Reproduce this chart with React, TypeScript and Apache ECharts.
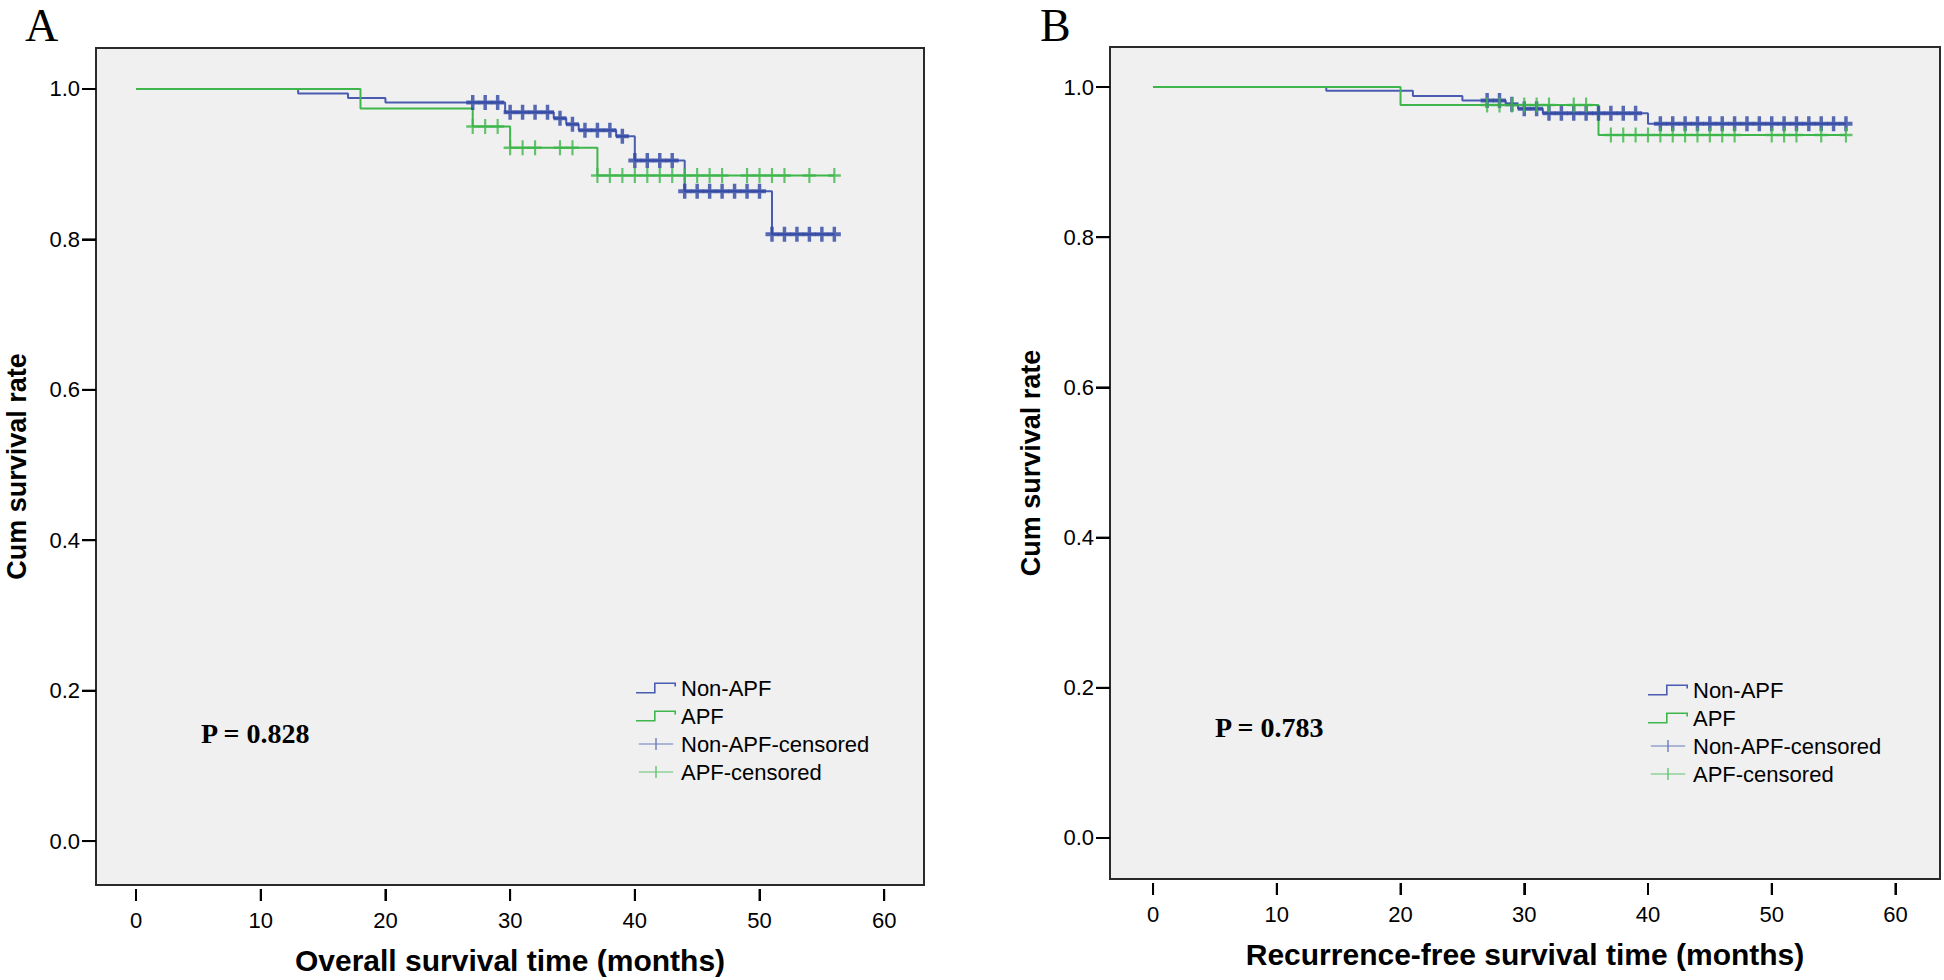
import React, { useEffect, useRef } from "react";
import * as echarts from "echarts";

// ---------- data ----------
const xTicks = [0, 10, 20, 30, 40, 50, 60];
const yTicks = [0, 0.2, 0.4, 0.6, 0.8, 1.0];

// Panel A: overall survival
const osNonApfTimes = [0, 13, 17, 20, 29.6, 33.5, 34.5, 35.5, 38.5, 40, 44, 51, 56];
const osNonApfSurv = [1, 0.994, 0.988, 0.982, 0.969, 0.961, 0.953, 0.945, 0.937, 0.905, 0.864, 0.807, 0.807];
const osNonApfCensor = [27, 28, 29, 30, 31, 32, 33, 34, 35, 36, 37, 38, 39, 40, 41, 42, 43, 44, 45, 46, 47, 48, 49, 50, 51, 52, 53, 54, 55, 56];

const osApfTimes = [0, 18, 27, 30, 37, 56];
const osApfSurv = [1, 0.974, 0.95, 0.922, 0.885, 0.885];
const osApfCensor = [27, 28, 29, 30, 31, 32, 34, 35, 37, 38, 39, 40, 41, 42, 43, 44, 45, 46, 47, 49, 50, 51, 52, 54, 56];

// Panel B: recurrence-free survival
const rfsNonApfTimes = [0, 14, 21, 25, 28.5, 29.5, 31.5, 40, 56];
const rfsNonApfSurv = [1, 0.995, 0.988, 0.982, 0.977, 0.971, 0.965, 0.951, 0.951];
const rfsNonApfCensor = [27, 28, 29, 30, 31, 32, 33, 34, 35, 36, 37, 38, 39, 41, 42, 43, 44, 45, 46, 47, 48, 49, 50, 51, 52, 53, 54, 55, 56];

const rfsApfTimes = [0, 20, 36, 56];
const rfsApfSurv = [1, 0.976, 0.936, 0.936];
const rfsApfCensor = [27, 28, 29, 30, 31, 32, 34, 35, 37, 38, 39, 40, 41, 42, 43, 44, 45, 46, 47, 50, 51, 52, 54, 56];

const legendNames = ["Non-APF", "APF", "Non-APF-censored", "APF-censored"];
const pValueA = "P = 0.828";
const pValueB = "P = 0.783";
const xTitleA = "Overall survival time (months)";
const xTitleB = "Recurrence-free survival time (months)";
const yTitle = "Cum survival rate";

// axis ranges per panel (chosen so the frame matches the original layout)
const xRanges = [
  [-3.21, 63.19],
  [-3.48, 63.6],
];
const yRanges = [
  [-0.0584, 1.0545],
  [-0.0546, 1.0533],
];

// ---------- styles ----------
const BLUE_LINE = "#4a5cb2";
const BLUE_MARK = "#3046a3";
const GREEN = "#3fb64b";
const AXIS_COLOR = "#2a2a2a";
const SANS = "Arial, 'Liberation Sans', sans-serif";
const SERIF = "'Times New Roman', 'Liberation Serif', serif";

const PLUS_BOLD = "path://M4.4,0H7.6V4.4H12V7.6H7.6V12H4.4V7.6H0V4.4H4.4Z";
const PLUS_THIN = "path://M5,0H7V5H12V7H7V12H5V7H0V5H5Z";
const STEP_ICON =
  "path://M0,9.4H19.6V11H0Z M18,0H19.6V11H18Z M18,0H40V1.6H18Z M38.4,0H40V4H38.4Z";
const CENSOR_ICON = "path://M0,6.3H19.2V0H20.8V6.3H40V7.7H20.8V14H19.2V7.7H0Z";

function survAt(times: number[], surv: number[], t: number) {
  let v = surv[0];
  for (let i = 0; i < times.length; i++) if (times[i] <= t) v = surv[i];
  return v;
}

function steps(times: number[], surv: number[]) {
  return times.map((t, i) => [t, surv[i]]);
}

function censors(times: number[], surv: number[], cens: number[]) {
  return cens.map((t) => [t, survAt(times, surv, t)]);
}

function panelSeries(
  idx: number,
  nonT: number[],
  nonS: number[],
  nonC: number[],
  apfT: number[],
  apfS: number[],
  apfC: number[]
) {
  return [
    {
      name: legendNames[0],
      type: "line",
      xAxisIndex: idx,
      yAxisIndex: idx,
      step: "end",
      showSymbol: false,
      color: BLUE_LINE,
      lineStyle: { color: BLUE_LINE, width: 2 },
      data: steps(nonT, nonS),
      z: 2,
    },
    {
      name: legendNames[1],
      type: "line",
      xAxisIndex: idx,
      yAxisIndex: idx,
      step: "end",
      showSymbol: false,
      color: GREEN,
      lineStyle: { color: GREEN, width: 2 },
      data: steps(apfT, apfS),
      z: 2,
    },
    {
      name: legendNames[2],
      type: "scatter",
      xAxisIndex: idx,
      yAxisIndex: idx,
      symbol: PLUS_BOLD,
      symbolSize: [13, 15],
      color: BLUE_MARK,
      itemStyle: { color: BLUE_MARK },
      data: censors(nonT, nonS, nonC),
      z: 3,
    },
    {
      name: legendNames[3],
      type: "scatter",
      xAxisIndex: idx,
      yAxisIndex: idx,
      symbol: PLUS_THIN,
      symbolSize: [13, 15],
      color: GREEN,
      itemStyle: { color: GREEN },
      data: censors(apfT, apfS, apfC),
      z: 4,
    },
  ];
}

function legendFor(left: number, top: number) {
  return {
    orient: "vertical",
    left,
    top,
    padding: 0,
    itemWidth: 40,
    itemHeight: 12,
    itemGap: 6,
    selectedMode: false,
    textStyle: { fontSize: 22, color: "#000", fontFamily: SANS },
    data: [
      { name: legendNames[0], icon: STEP_ICON, itemStyle: { color: BLUE_LINE, borderWidth: 0 } },
      { name: legendNames[1], icon: STEP_ICON, itemStyle: { color: GREEN, borderWidth: 0 } },
      { name: legendNames[2], icon: CENSOR_ICON, itemStyle: { color: BLUE_LINE, borderWidth: 0 } },
      { name: legendNames[3], icon: CENSOR_ICON, itemStyle: { color: GREEN, borderWidth: 0 } },
    ],
  };
}

function xAxisFor(idx: number, name: string) {
  return {
    type: "value",
    gridIndex: idx,
    min: xRanges[idx][0],
    max: xRanges[idx][1],
    offset: 4,
    axisLine: { show: false, onZero: false },
    axisTick: { show: true, inside: false, length: 12, lineStyle: { color: "#000", width: 2 }, customValues: xTicks },
    axisLabel: { customValues: xTicks, margin: 20, fontSize: 22, color: "#000", fontFamily: SANS },
    splitLine: { show: false },
    name,
    nameLocation: "middle",
    nameGap: 56,
    nameTextStyle: { fontSize: 30, fontWeight: "bold", color: "#000", fontFamily: SANS },
  };
}

function yAxisFor(idx: number) {
  return {
    type: "value",
    gridIndex: idx,
    min: yRanges[idx][0],
    max: yRanges[idx][1],
    axisLine: { show: false, onZero: false },
    axisTick: { show: true, inside: false, length: 14, lineStyle: { color: "#000", width: 2 }, customValues: yTicks },
    axisLabel: {
      customValues: yTicks,
      formatter: (v: number) => v.toFixed(1),
      margin: 16,
      fontSize: 22,
      color: "#000",
      fontFamily: SANS,
    },
    splitLine: { show: false },
    name: yTitle,
    nameLocation: "middle",
    nameGap: 66,
    nameTextStyle: { fontSize: 27, fontWeight: "bold", color: "#000", fontFamily: SANS },
  };
}

const textGraphics = [
  { id: "lblA", type: "text", left: 25, top: 2, style: { text: "A", fontSize: 46, fontFamily: SERIF, fill: "#000" } },
  { id: "lblB", type: "text", left: 1040, top: 2, style: { text: "B", fontSize: 46, fontFamily: SERIF, fill: "#000" } },
  {
    id: "pA",
    type: "text",
    left: 201,
    top: 719,
    style: { text: pValueA, fontSize: 28, fontWeight: "bold", fontFamily: SERIF, fill: "#000" },
  },
  {
    id: "pB",
    type: "text",
    left: 1215,
    top: 713,
    style: { text: pValueB, fontSize: 28, fontWeight: "bold", fontFamily: SERIF, fill: "#000" },
  },
];

export default function App() {
  const ref = useRef<HTMLDivElement>(null);

  useEffect(() => {
    if (!ref.current) return;
    const chart = echarts.init(ref.current, undefined, { renderer: "svg" });
    const gridStyle = {
      show: true,
      backgroundColor: "#f0f0f0",
      borderColor: AXIS_COLOR,
      borderWidth: 2,
    };
    chart.setOption({
      animation: false,
      backgroundColor: "#ffffff",
      grid: [
        { left: 96, top: 48, width: 828, height: 838, ...gridStyle },
        { left: 1110, top: 47, width: 830, height: 832, ...gridStyle },
      ],
      xAxis: [xAxisFor(0, xTitleA), xAxisFor(1, xTitleB)],
      yAxis: [yAxisFor(0), yAxisFor(1)],
      legend: [legendFor(636, 677), legendFor(1648, 679)],
      series: [
        ...panelSeries(0, osNonApfTimes, osNonApfSurv, osNonApfCensor, osApfTimes, osApfSurv, osApfCensor),
        ...panelSeries(1, rfsNonApfTimes, rfsNonApfSurv, rfsNonApfCensor, rfsApfTimes, rfsApfSurv, rfsApfCensor),
      ],
      graphic: textGraphics,
    });

    // backup tick marks placed through the axes' own scales
    const ticks: any[] = [];
    try {
      [0, 1].forEach((idx) => {
        const finder = { gridIndex: idx };
        const corner = chart.convertToPixel(finder, [xRanges[idx][0], yRanges[idx][0]]) as number[];
        const left = Number(corner[0]);
        const bottom = Number(corner[1]);
        xTicks.forEach((v, i) => {
          const px = Number((chart.convertToPixel(finder, [v, yRanges[idx][0]]) as number[])[0]);
          if (!isFinite(px) || !isFinite(bottom)) return;
          ticks.push({
            id: `xt${idx}_${i}`,
            type: "rect",
            z: 100,
            shape: { x: px - 1, y: bottom + 4, width: 2, height: 12 },
            style: { fill: "#000" },
          });
        });
        yTicks.forEach((v, i) => {
          const py = Number((chart.convertToPixel(finder, [xRanges[idx][0], v]) as number[])[1]);
          if (!isFinite(py) || !isFinite(left)) return;
          ticks.push({
            id: `yt${idx}_${i}`,
            type: "rect",
            z: 100,
            shape: { x: left - 14, y: py - 1, width: 14, height: 2 },
            style: { fill: "#000" },
          });
        });
      });
      chart.setOption({ graphic: [...textGraphics, ...ticks] });
    } catch (e) {
      // keep the chart as is
    }

    return () => chart.dispose();
  }, []);

  return (
    <div
      ref={ref}
      style={{ position: "fixed", left: 0, top: 0, width: 1944, height: 980, background: "#fff" }}
    />
  );
}
